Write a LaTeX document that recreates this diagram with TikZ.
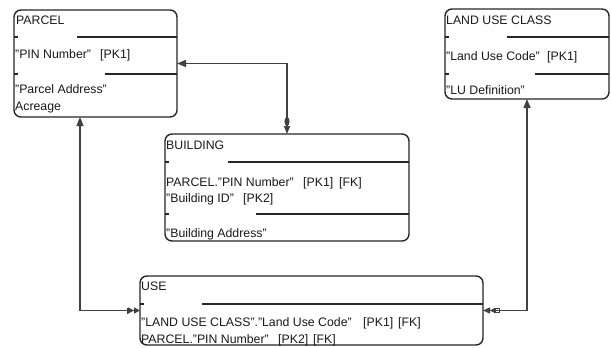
\documentclass[tikz,border=0pt]{standalone}
\usepackage{fontspec}
\setmainfont{Liberation Sans}
\usetikzlibrary{arrows.meta}
\begin{document}
\begin{tikzpicture}[x=1pt,y=-1pt,
  entity/.style={draw=black!85, line width=1.4pt, rounded corners=7pt, inner sep=0pt, outer sep=0pt, fill=white},
  txt/.style={anchor=base west, inner sep=0pt, font=\fontsize{12.3}{14}\selectfont, text=black!90},
  divider/.style={draw=black!85, line width=1.4pt},
  conn/.style={draw=black!75, line width=1.4pt},
]
\useasboundingbox (0,0) rectangle (611,348);

% ---------- entity boxes ----------
\node[entity, minimum width=163pt, minimum height=107pt] (parcel) at (95.5,63.5) {};
\node[entity, minimum width=244pt, minimum height=107pt] (building) at (287,187.5) {};
\node[entity, minimum width=164pt, minimum height=90pt] (lu) at (527,54) {};
\node[entity, minimum width=343pt, minimum height=69pt] (use) at (311.5,310.5) {};

% ---------- PARCEL ----------
\node[txt] (p0) at (16,24) {PARCEL};
\draw[divider] (parcel.west |- 0,37) -- ++(4,0);
\draw[divider] (77,37) -- (parcel.east |- 0,37);
\node[txt] (p1) at (15,58) {"PIN Number"};
\node[txt] (p1k) at (100,58) {[PK1]};
\draw[divider] (parcel.west |- 0,74) -- ++(4,0);
\draw[divider] (105,74) -- (parcel.east |- 0,74);
\node[txt] (p2) at (15,93) {"Parcel Address"};
\node[txt] (p3) at (15,110) {Acreage};

% ---------- BUILDING ----------
\node[txt] (b0) at (166,149) {BUILDING};
\draw[divider] (building.west |- 0,162) -- ++(4,0);
\draw[divider] (228,162) -- (building.east |- 0,162);
\node[txt] (b1) at (166,186) {PARCEL."PIN Number"};
\node[txt] (b1k) at (303,186) {[PK1]};
\node[txt] (b1f) at (339,186) {[FK]};
\node[txt] (b2) at (166,202) {"Building ID"};
\node[txt] (b2k) at (243,202) {[PK2]};
\draw[divider] (building.west |- 0,214) -- ++(4,0);
\draw[divider] (256,214) -- (building.east |- 0,214);
\node[txt] (b3) at (166,237) {"Building Address"};

% ---------- LAND USE CLASS ----------
\node[txt] (l0) at (446,24) {LAND USE CLASS};
\draw[divider] (lu.west |- 0,37) -- ++(4,0);
\draw[divider] (507,37) -- (lu.east |- 0,37);
\node[txt] (l1) at (446,60) {"Land Use Code"};
\node[txt] (l1k) at (547,60) {[PK1]};
\draw[divider] (lu.west |- 0,74) -- ++(4,0);
\draw[divider] (535,74) -- (lu.east |- 0,74);
\node[txt] (l2) at (446,94) {"LU Definition"};

% ---------- USE ----------
\node[txt] (u0) at (141,290) {USE};
\draw[divider] (use.west |- 0,304) -- ++(4,0);
\draw[divider] (202,304) -- (use.east |- 0,304);
\node[txt] (u1) at (141,326) {"LAND USE CLASS"."Land Use Code"};
\node[txt] (u1k) at (363,326) {[PK1]};
\node[txt] (u1f) at (398,326) {[FK]};
\node[txt] (u2) at (141,343) {PARCEL."PIN Number"};
\node[txt] (u2k) at (278,343) {[PK2]};
\node[txt] (u2f) at (313,343) {[FK]};

% ---------- connectors ----------
\coordinate (pbot) at ([xshift=66pt]parcel.south west);
\draw[conn, {Triangle[length=8pt,width=6pt] Ellipse[length=9pt,width=5pt]}-{Triangle[length=9pt,width=7pt]}]
  (building.north) |- (parcel.east);
\draw[conn, {Triangle[length=9pt,width=7pt]}-{Bar[width=6pt] Triangle[length=6pt,width=6pt] Triangle[length=6pt,width=6pt]}]
  (pbot) |- (use.west);
\draw[conn, {Triangle[length=7pt,width=6pt] Triangle[length=5pt,width=5pt] Square[open,length=5pt,width=5pt]}-{Triangle[length=9pt,width=7pt]}]
  (use.east) -| (lu.south);
\end{tikzpicture}
\end{document}
